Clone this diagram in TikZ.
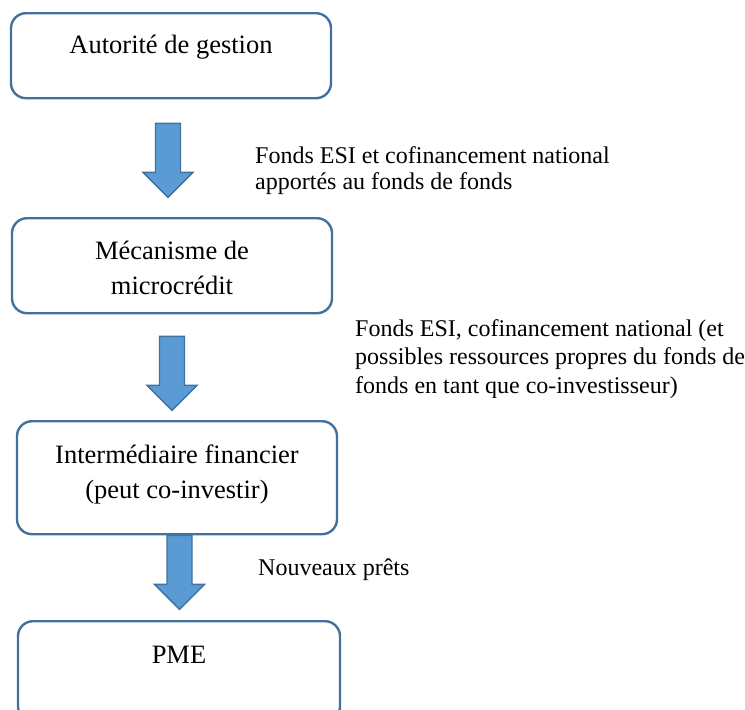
\documentclass[tikz,border=0pt]{standalone}
\usepackage{fontspec}
\setmainfont{Liberation Serif}
\definecolor{boxblue}{HTML}{41719C}
\definecolor{arrowblue}{HTML}{5B9BD5}
\tikzset{
  stage/.style={draw=boxblue, line width=2.4pt, rounded corners=15pt, inner sep=0pt,
    minimum width=320pt, align=center, anchor=north, font=\fontsize{26.5}{35}\selectfont},
  blockarrow/.style={draw=boxblue, fill=arrowblue, line width=1.4pt},
  note/.style={inner sep=0pt, align=left, anchor=base west}
}
\begin{document}
\begin{tikzpicture}[x=1pt,y=-1pt]
\useasboundingbox (0,0) rectangle (745,710);
% boxes
\node[stage, text height=40pt, text depth=45pt] (autorite) at (171,12) {Autorité de gestion};
\node[stage, text height=76pt, text depth=19pt] (mecanisme) at (172,217) {Mécanisme de\\microcrédit};
\node[stage, text height=77pt, text depth=36pt] (intermediaire) at (177,420) {Intermédiaire financier\\(peut co-investir)};
\node[stage, minimum width=322pt, text height=42pt, text depth=58pt] (pme) at (179,620) {PME};
% block arrows
\coordinate (a1) at ([shift={(-3,24)}]autorite.south);
\coordinate (a2) at ([shift={(0,22)}]mecanisme.south);
\coordinate (a3) at ([shift={(2.5,0)}]intermediaire.south);
\foreach \a in {a1,a2,a3}
  \draw[blockarrow] (\a) ++(-12.5,0) --++(25,0) --++(0,49) --++(12.5,0) --++(-25,25) --++(-25,-25) --++(12.5,0) -- cycle;
% labels
\node[note, font=\fontsize{24}{26}\selectfont] (apport) at (255,189) {Fonds ESI et cofinancement national\\apportés au fonds de fonds};
\begin{scope}
\clip (340,300) rectangle (745,397);
\node[note, font=\fontsize{24}{28.5}\selectfont] (ressources) at (355,393) {Fonds ESI, cofinancement national (et\\possibles ressources propres du fonds de\\fonds en tant que co-investisseur)};
\end{scope}
\node[note, font=\fontsize{24}{26}\selectfont] (prets) at (258,575) {Nouveaux prêts};
\end{tikzpicture}
\end{document}
